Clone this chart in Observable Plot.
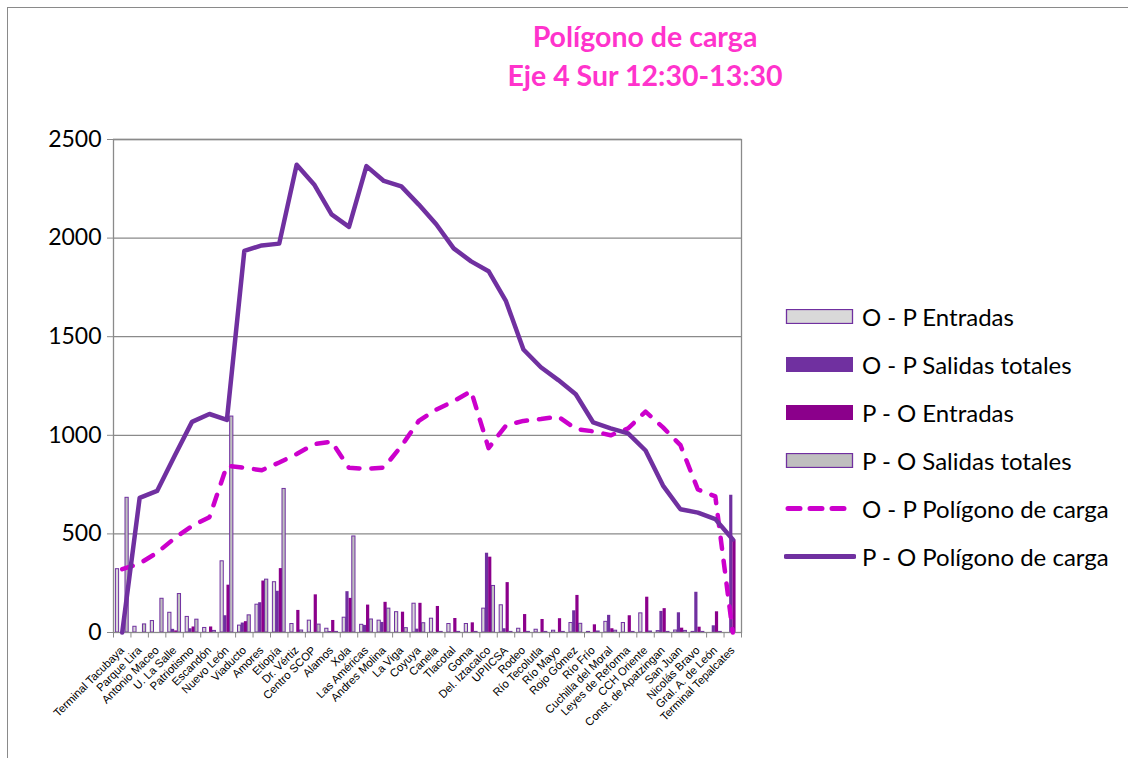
<!DOCTYPE html>
<html>
<head>
<meta charset="utf-8">
<script src="https://cdn.jsdelivr.net/npm/d3@7"></script>
<script src="https://cdn.jsdelivr.net/npm/@observablehq/plot@0.6"></script>
<style>
  html, body { margin: 0; padding: 0; background: #fff; overflow: hidden; width: 1128px; height: 758px; }
  #wrap { position: relative; width: 1128px; height: 758px; font-family: Lato, "Open Sans", sans-serif; }
  #outer { position: absolute; left: 7px; top: 7px; width: 1140px; height: 770px; border: 1px solid #8a8a8a; box-sizing: border-box; }
  #title { position: absolute; left: 445px; top: 17px; width: 400px; text-align: center; color: #FF33CC; font-weight: bold; font-size: 28.5px; line-height: 39px; }
  #chart { position: absolute; left: 0; top: 100px; }
  #legend { position: absolute; left: 784px; top: 0; }
  .item { position: absolute; left: 0; height: 30px; width: 344px; display: flex; align-items: center; }
  .item svg { flex: none; }
  .item span { margin-left: 6px; font-size: 24px; color: #000; white-space: nowrap; }
</style>
</head>
<body>
<div id="wrap">
  <div id="outer"></div>
  <div id="title">Polígono de carga<br>Eje 4 Sur 12:30-13:30</div>
  <div id="chart"></div>
  <div id="legend"></div>
</div>
<script>
// ---------- data ----------
const stations = ["Terminal Tacubaya","Parque Lira","Antonio Maceo","U. La Salle","Patriotismo","Escandón","Nuevo León","Viaducto","Amores","Etiopía","Dr. Vértiz","Centro SCOP","Alamos","Xola","Las Américas","Andres Molina","La Viga","Coyuya","Canela","Tlacotal","Goma","Del. Iztacalco","UPIICSA","Rodeo","Río Tecolutla","Río Mayo","Rojo Gómez","Río Frío","Cuchilla del Moral","Leyes de Reforma","CCH Oriente","Const. de Apatzingan","San Juan","Nicolás Bravo","Gral. A. de León","Terminal Tepalcates"];

const opEntradas = [321,29,58,100,79,23,361,35,141,255,43,60,19,75,39,60,103,146,70,43,43,121,138,19,14,9,48,3,54,48,97,7,10,3,0,0];
const opSalidas  = [0,0,0,16,19,0,85,48,151,209,0,0,5,207,36,51,0,17,0,0,0,402,19,0,0,0,110,0,87,0,0,107,100,204,34,696];
const poEntradas = [0,0,0,8,28,28,240,55,261,324,112,191,61,173,139,153,103,148,132,71,49,382,253,91,66,70,188,39,19,85,179,121,22,27,105,470];
const poSalidas  = [683,41,171,195,65,8,1095,87,268,728,10,40,3,487,66,121,22,47,3,3,3,236,3,3,3,3,44,5,9,3,5,3,8,3,3,0];
const opCarga    = [321,350,405,478,540,585,846,835,823,862,905,955,968,835,830,836,945,1073,1130,1173,1224,935,1050,1073,1083,1095,1032,1020,1000,1035,1120,1040,950,725,690,0];
const poCarga    = [0,683,718,895,1068,1108,1078,1935,1963,1972,2372,2272,2120,2057,2365,2290,2262,2170,2070,1948,1882,1832,1680,1435,1345,1280,1208,1065,1035,1010,923,745,625,608,575,472];

const yTicks = [0,500,1000,1500,2000,2500];
const seriesNames = ["O - P Entradas","O - P Salidas totales","P - O Entradas","P - O Salidas totales","O - P Polígono de carga","P - O Polígono de carga"];

// ---------- styles ----------
const PURPLE = "#7030A0", MAGENTA = "#8B008B", DASH = "#CC00CC", LIGHT = "#D9D9D9", GRAY = "#BFBFBF", GRID = "#8a8a8a";

const rows = stations.map((s, i) => ({
  station: s, opE: opEntradas[i], opS: opSalidas[i], poE: poEntradas[i], poS: poSalidas[i],
  opC: opCarga[i], poC: poCarga[i]
}));

const marginLeft = 113, marginRight = 387, width = 1128;
const bw = (width - marginLeft - marginRight) / stations.length;
const barW = 3.2, groupStart = 2.4;
function insets(k) {
  const l = groupStart + barW * k;
  return {insetLeft: l, insetRight: bw - l - barW};
}
const barSpecs = [
  {key: "opE", fill: LIGHT, stroke: PURPLE},
  {key: "opS", fill: PURPLE, stroke: null},
  {key: "poE", fill: MAGENTA, stroke: null},
  {key: "poS", fill: GRAY, stroke: PURPLE}
];

const chart = Plot.plot({
  width, height: 658,
  marginLeft, marginRight, marginTop: 39, marginBottom: 126,
  x: {type: "band", domain: stations, padding: 0, round: false, align: 0.5},
  y: {domain: [0, 2500]},
  style: {background: "transparent", overflow: "visible"},
  marks: [
    Plot.ruleY(yTicks.filter(d => d > 0), {stroke: GRID, strokeWidth: 1.3}),
    ...barSpecs.map((b, k) => Plot.barY(rows, {
      x: "station", y: b.key, fill: b.fill,
      stroke: b.stroke || undefined, strokeWidth: b.stroke ? 1 : undefined,
      ...insets(k)
    })),
    Plot.frame({stroke: GRID, strokeWidth: 1.3}),
    Plot.ruleX(stations, {x: d => d, y1: 0, y2: -28, dx: -bw / 2, stroke: GRID}),
    Plot.ruleX([stations[stations.length - 1]], {x: d => d, y1: 0, y2: -28, dx: bw / 2, stroke: GRID}),
    Plot.line(rows, {x: "station", y: "opC", stroke: DASH, strokeWidth: 4.5, strokeDasharray: "11,12", strokeLinecap: "round"}),
    Plot.line(rows, {x: "station", y: "poC", stroke: PURPLE, strokeWidth: 4.5, strokeLinejoin: "round"}),
    Plot.axisY({ticks: yTicks, tickFormat: d => String(d), tickSize: 6, tickPadding: 6, fontSize: 23, fontFamily: "Lato, sans-serif", stroke: GRID, fill: "#000", label: null}),
    Plot.axisX({tickSize: 0, tickRotate: -45, tickPadding: 16, fontSize: 11.3, fontFamily: "Liberation Sans, Arial, sans-serif", fill: "#000", label: null})
  ]
});
document.getElementById("chart").appendChild(chart);

// ---------- legend ----------
const legend = document.getElementById("legend");
const legendY = [316, 364, 412, 460, 508, 556];
const swatches = [
  `<rect x="2.5" y="0.5" width="66" height="14" fill="${LIGHT}" stroke="${PURPLE}" stroke-width="1.3"/>`,
  `<rect x="2" y="0" width="67" height="15" fill="${PURPLE}"/>`,
  `<rect x="2" y="0" width="67" height="15" fill="${MAGENTA}"/>`,
  `<rect x="2.5" y="0.5" width="66" height="14" fill="${GRAY}" stroke="${PURPLE}" stroke-width="1.3"/>`,
  `<line x1="4" y1="7.5" x2="68" y2="7.5" stroke="${DASH}" stroke-width="5" stroke-dasharray="12,10" stroke-linecap="round"/>`,
  `<line x1="2" y1="7.5" x2="70" y2="7.5" stroke="${PURPLE}" stroke-width="5" stroke-linecap="round"/>`
];
seriesNames.forEach((name, i) => {
  const div = document.createElement("div");
  div.className = "item";
  div.style.top = (legendY[i] - 15) + "px";
  div.innerHTML = `<svg width="72" height="15">${swatches[i]}</svg><span>${name}</span>`;
  legend.appendChild(div);
});
</script>
</body>
</html>
